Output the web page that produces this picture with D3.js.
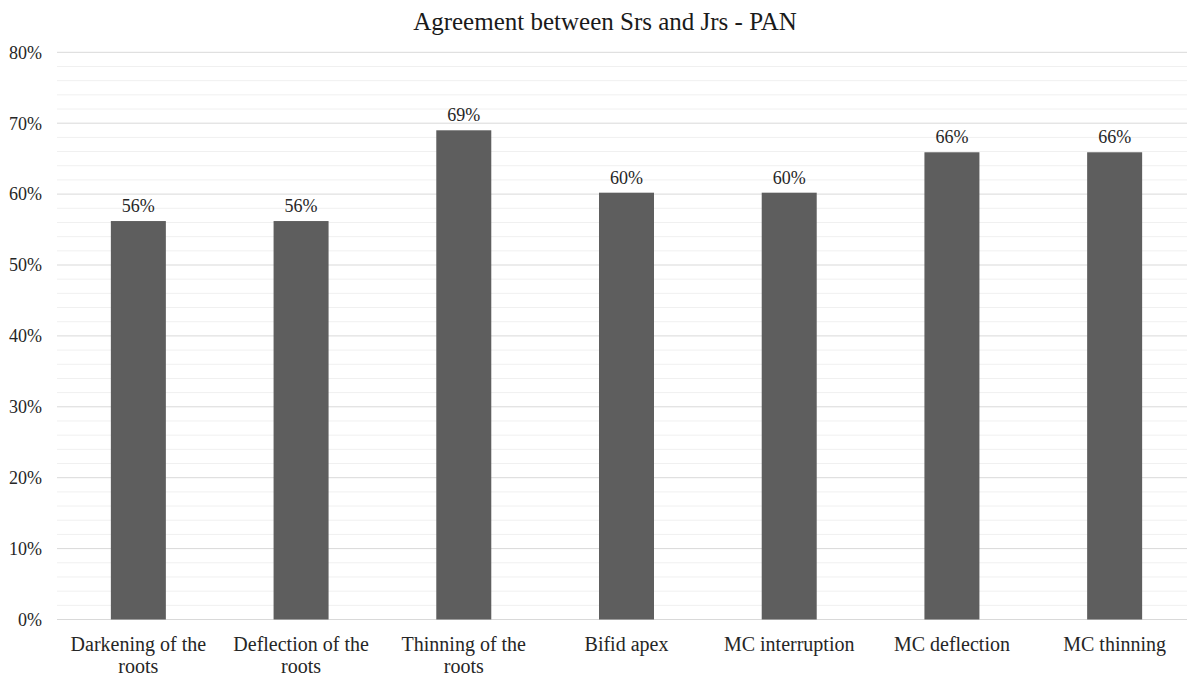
<!DOCTYPE html>
<html>
<head>
<meta charset="utf-8">
<script src="https://cdn.jsdelivr.net/npm/d3@7/dist/d3.min.js"></script>
<style>
  html, body { margin: 0; padding: 0; background: #fff; }
  svg { display: block; font-family: "Liberation Serif", "Times New Roman", serif; }
</style>
</head>
<body>
<svg id="chart" width="1187" height="679"></svg>
<script>
const title = "Agreement between Srs and Jrs - PAN";
const categories = ["Darkening of the roots", "Deflection of the roots", "Thinning of the roots", "Bifid apex", "MC interruption", "MC deflection", "MC thinning"];
const values = [56.2, 56.2, 69, 60.2, 60.2, 65.9, 65.9];
const valueLabels = ["56%", "56%", "69%", "60%", "60%", "66%", "66%"];
const majorTicks = [0, 10, 20, 30, 40, 50, 60, 70, 80];
const minorTicks = d3.range(0, 80.01, 2);

const svg = d3.select("#chart");
const plotLeft = 57, plotRight = 1196, plotTop = 52.3, plotBottom = 619.5;

const x = d3.scaleBand().domain(categories).range([plotLeft, plotRight]).paddingInner(0.662).paddingOuter(0.331);
const y = d3.scaleLinear().domain([0, 80]).range([plotBottom, plotTop]);

// minor grid
svg.append("g").selectAll("line").data(minorTicks.filter(t => t % 10 !== 0)).join("line")
  .attr("x1", plotLeft).attr("x2", plotRight)
  .attr("y1", d => y(d)).attr("y2", d => y(d))
  .attr("stroke", "#f0f0f0").attr("stroke-width", 1);

// major grid
svg.append("g").selectAll("line").data(majorTicks).join("line")
  .attr("x1", plotLeft).attr("x2", plotRight)
  .attr("y1", d => y(d)).attr("y2", d => y(d))
  .attr("stroke", "#d9d9d9").attr("stroke-width", 1);

// y tick labels
svg.append("g").selectAll("text").data(majorTicks).join("text")
  .attr("x", 42).attr("y", d => y(d)).attr("dy", "0.35em")
  .attr("text-anchor", "end").attr("font-size", 18).attr("fill", "#262626")
  .text(d => d + "%");

// bars
svg.append("g").selectAll("rect").data(values).join("rect")
  .attr("x", (d, i) => x(categories[i]))
  .attr("width", x.bandwidth())
  .attr("y", d => y(d))
  .attr("height", d => y(0) - y(d))
  .attr("fill", "#5e5e5e");

// value labels
svg.append("g").selectAll("text").data(values).join("text")
  .attr("x", (d, i) => x(categories[i]) + x.bandwidth() / 2)
  .attr("y", d => y(d) - 9)
  .attr("text-anchor", "middle").attr("font-size", 18).attr("fill", "#262626")
  .text((d, i) => valueLabels[i]);

// category labels with wrapping
const ctx = document.createElement("canvas").getContext("2d");
ctx.font = '20px "Liberation Serif"';
function wrap(text, maxW) {
  const words = text.split(" ");
  const lines = [];
  let cur = "";
  words.forEach(w => {
    const t = cur ? cur + " " + w : w;
    if (ctx.measureText(t).width > maxW && cur) { lines.push(cur); cur = w; }
    else cur = t;
  });
  if (cur) lines.push(cur);
  return lines;
}
const catG = svg.append("g");
categories.forEach(c => {
  const lines = wrap(c, x.step() - 8);
  const cx = x(c) + x.bandwidth() / 2;
  const t = catG.append("text")
    .attr("x", cx).attr("y", 651)
    .attr("text-anchor", "middle").attr("font-size", 20).attr("fill", "#262626");
  lines.forEach((l, i) => {
    t.append("tspan").attr("x", cx).attr("dy", i === 0 ? 0 : 22).text(l);
  });
});

// title
svg.append("text").attr("x", 605).attr("y", 30)
  .attr("text-anchor", "middle").attr("font-size", 25).attr("fill", "#1a1a1a")
  .text(title);
</script>
</body>
</html>
